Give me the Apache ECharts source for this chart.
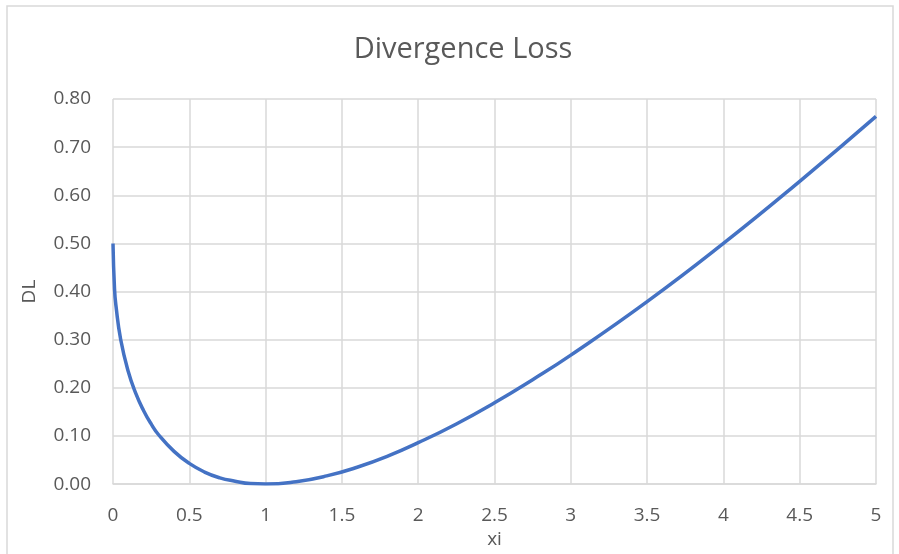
<!DOCTYPE html>
<html>
<head>
<meta charset="utf-8">
<script src="https://cdn.jsdelivr.net/npm/echarts@6/dist/echarts.min.js"></script>
<style>
  html, body { margin: 0; padding: 0; background: #fff; }
  #chart { width: 899px; height: 554px; }
</style>
</head>
<body>
<div id="chart"></div>
<script>
// values
var xi = [0, 0.01, 0.02, 0.05, 0.1, 0.15, 0.2, 0.25, 0.3, 0.4, 0.5, 0.6, 0.7, 0.8, 0.9, 1.0,
          1.2, 1.4, 1.6, 1.8, 2.0, 2.25, 2.5, 2.75, 3.0, 3.5, 4.0, 4.5, 5.0];
var dl = [0.500, 0.405, 0.369, 0.301, 0.234, 0.188, 0.153, 0.125, 0.102, 0.068, 0.043, 0.025, 0.013, 0.006, 0.001, 0.000,
          0.005, 0.017, 0.035, 0.058, 0.086, 0.125, 0.169, 0.217, 0.268, 0.379, 0.500, 0.629, 0.764];

window.onload = function () {
  var myChart = echarts.init(document.getElementById('chart'));

  var pts = xi.map(function (x, i) { return [x, dl[i]]; });

  var option = {
    backgroundColor: '#fff',
    textStyle: { fontFamily: 'Open Sans, Noto Sans, sans-serif' },
    title: {
      text: 'Divergence Loss',
      left: 458,
      textAlign: 'center',
      top: 30,
      textStyle: { fontSize: 29, fontWeight: 'normal', color: '#595959', fontFamily: 'Open Sans, sans-serif' }
    },
    graphic: [{
      type: 'rect',
      shape: { x: 7, y: 6, width: 886, height: 560 },
      style: { fill: 'none', stroke: '#d9d9d9', lineWidth: 1.5 },
      silent: true
    }],
    grid: { left: 113, right: 23, top: 99, bottom: 67 },
    xAxis: {
      type: 'value',
      min: 0, max: 5, interval: 0.5,
      name: 'xi',
      nameLocation: 'middle',
      nameGap: 31,
      nameTextStyle: { fontSize: 19, color: '#595959' },
      axisLine: { show: true, lineStyle: { color: '#d9d9d9', width: 1.5 } },
      axisTick: { show: false },
      axisLabel: { fontSize: 19, color: '#595959', margin: 22 },
      splitLine: { show: true, lineStyle: { color: '#d9d9d9', width: 1.5 } }
    },
    yAxis: {
      type: 'value',
      min: 0, max: 0.8, interval: 0.1,
      name: 'DL',
      nameLocation: 'middle',
      nameGap: 74,
      nameTextStyle: { fontSize: 19, color: '#595959' },
      axisLine: { show: false },
      axisTick: { show: false },
      axisLabel: { fontSize: 19, color: '#595959', margin: 22, formatter: function (v) { return v.toFixed(2); } },
      splitLine: { show: true, lineStyle: { color: '#d9d9d9', width: 1.5 } }
    },
    series: [{
      type: 'line',
      data: pts,
      smooth: true,
      showSymbol: false,
      lineStyle: { color: '#4472C4', width: 3.5 },
      itemStyle: { color: '#4472C4' }
    }]
  };

  myChart.setOption(option);
};
</script>
</body>
</html>
